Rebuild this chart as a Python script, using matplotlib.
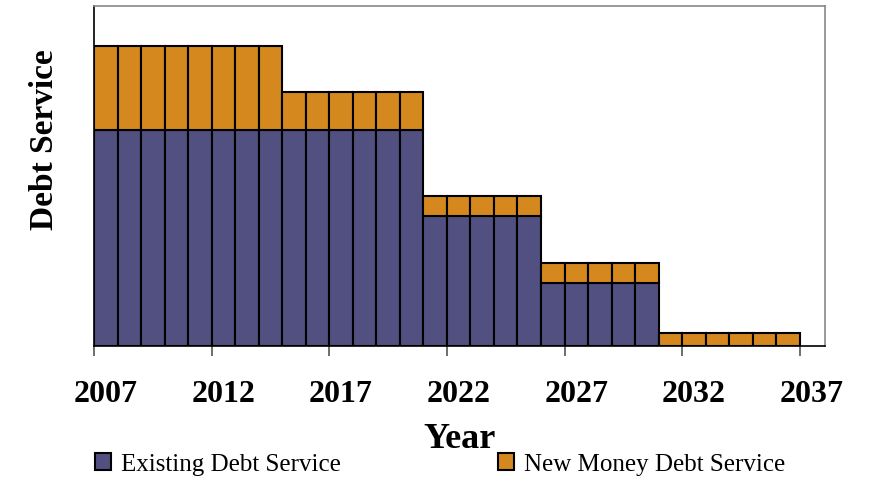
import numpy as np
import matplotlib
matplotlib.use("Agg")
import matplotlib.pyplot as plt
from matplotlib.ticker import FixedLocator, NullFormatter

# data (arbitrary units, y axis is unlabelled)
years = np.arange(2007, 2037)
existing = [21.6] * 14 + [13.0] * 5 + [6.3] * 5 + [0.0] * 6
new_money = [8.4] * 8 + [3.8] * 6 + [2.0] * 5 + [2.0] * 5 + [1.3] * 6
tick_years = [2007, 2012, 2017, 2022, 2027, 2032, 2037]

col_exist = "#525080"
col_new = "#D4881E"

plt.rcParams['font.family'] = ['Liberation Serif', 'DejaVu Serif']

fig = plt.figure(figsize=(8.8, 4.81), dpi=100)
ax = fig.add_axes([0.1068, 0.2786, 0.9375 - 0.1068, 0.9854 - 0.2786])

b1 = ax.bar(years, existing, width=1.0, color=col_exist, edgecolor="black",
            linewidth=1.5, label="Existing Debt Service")
b2 = ax.bar(years, new_money, width=1.0, bottom=existing, color=col_new,
            edgecolor="black", linewidth=1.5, label="New Money Debt Service")

ax.set_xlim(2006.5, 2037.57)
ax.set_ylim(0, 34.0)

# tick marks at bar edges, labels centred on the year
ax.xaxis.set_major_locator(FixedLocator([y - 0.5 for y in tick_years]))
ax.xaxis.set_major_formatter(NullFormatter())
ax.xaxis.set_minor_locator(FixedLocator(tick_years))
ax.set_xticklabels([str(y) for y in tick_years], minor=True,
                   fontsize=23, fontweight="bold")
ax.tick_params(axis="x", which="major", length=7, width=1.2, color="#555555")
ax.tick_params(axis="x", which="minor", length=0, pad=24)
ax.set_yticks([])

for s in ["top", "right"]:
    ax.spines[s].set_color("#888888")
    ax.spines[s].set_linewidth(1.2)
for s in ["left", "bottom"]:
    ax.spines[s].set_color("black")
    ax.spines[s].set_linewidth(1.2)

ax.set_xlabel("Year", fontsize=26, fontweight="bold", labelpad=10)
ax.set_ylabel("Debt Service", fontsize=24, fontweight="bold")
ax.yaxis.set_label_coords(-0.046, 0.61)

fig.legend(handles=[b1], loc="center left", bbox_to_anchor=(0.108, 0.033),
           frameon=False, fontsize=18, borderpad=0, borderaxespad=0,
           handlelength=0.65, handleheight=0.65, handletextpad=0.4)
fig.legend(handles=[b2], loc="center left", bbox_to_anchor=(0.566, 0.033),
           frameon=False, fontsize=18, borderpad=0, borderaxespad=0,
           handlelength=0.65, handleheight=0.65, handletextpad=0.4)

fig.savefig("out.png", dpi=100)
